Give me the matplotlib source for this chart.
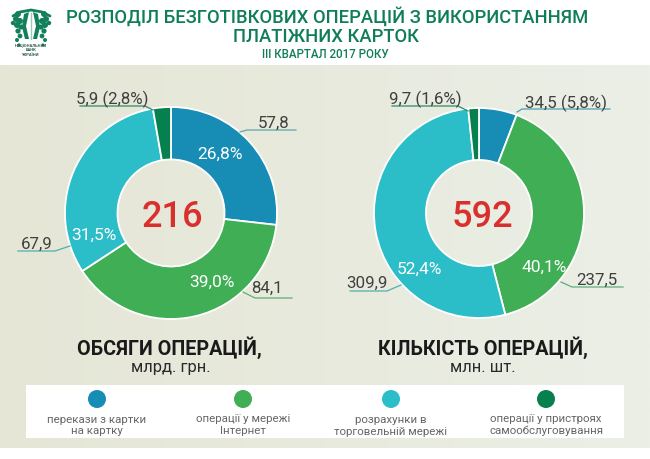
import numpy as np
import matplotlib
matplotlib.use("Agg")
import matplotlib.pyplot as plt
from matplotlib.patches import Rectangle, Ellipse, Polygon, Circle

plt.rcParams["font.family"] = ["Roboto", "DejaVu Sans"]

# data
left_values = [57.8, 84.1, 67.9, 5.9]
right_values = [34.5, 237.5, 309.9, 9.7]
left_total = "216"
right_total = "592"
left_pct = ["26,8%", "39,0%", "31,5%"]
right_pct = ["40,1%", "52,4%"]
colors = ["#178db5", "#3fae54", "#2bbdc8", "#07804f"]
legend_labels = ["перекази з картки\nна картку", "операції у мережі\nІнтернет",
                 "розрахунки в\nторговельній мережі", "операції у пристроях\nсамообслуговування"]

W, H = 650, 460
fig = plt.figure(figsize=(6.5, 4.6), dpi=100, facecolor="white")

# pixel overlay for background, text and leader lines
bg = fig.add_axes([0, 0, 1, 1])
grad = np.linspace(0, 1, 256).reshape(1, -1)
cmap = matplotlib.colors.LinearSegmentedColormap.from_list("bg", ["#e5e6d6", "#e8eadd", "#ebefe6"])
bg.imshow(grad, extent=(0, W, 449, 66), cmap=cmap, aspect="auto", zorder=0)
bg.set_xlim(0, W)
bg.set_ylim(H, 0)
bg.axis("off")
bg.add_patch(Rectangle((26, 386), 598, 53, fc="white", ec="none", zorder=1))


def donut(cx, cy, r, values):
    ax = fig.add_axes([(cx - r - 2) / W, 1 - (cy + r + 2) / H, (2 * r + 4) / W, (2 * r + 4) / H])
    ax.pie(values, colors=colors, startangle=90, counterclock=False, radius=r,
           wedgeprops=dict(width=r * 0.495, edgecolor="white", linewidth=1.3))
    ax.set_xlim(-r - 2, r + 2)
    ax.set_ylim(-r - 2, r + 2)
    ax.set_aspect("equal")
    ax.patch.set_alpha(0)
    return ax


donut(171, 214, 106, left_values)
donut(479, 214, 105, right_values)

top = fig.add_axes([0, 0, 1, 1])
top.set_xlim(0, W)
top.set_ylim(H, 0)
top.axis("off")
top.patch.set_alpha(0)

# title
green = "#0f7d5a"
top.text(327, 17, "РОЗПОДІЛ БЕЗГОТІВКОВИХ ОПЕРАЦІЙ З ВИКОРИСТАННЯМ", color=green,
         fontsize=13.2, ha="center", va="center", fontweight="medium")
top.text(326, 36.5, "ПЛАТІЖНИХ КАРТОК", color=green, fontsize=13.2, ha="center", va="center",
         fontweight="medium")
top.text(325, 54, "III КВАРТАЛ 2017 РОКУ", color=green, fontsize=8.3, ha="center", va="center",
         fontweight="medium")

# logo, rough shapes
logo = "#12805a"
top.plot([13, 20, 31, 42, 50], [17, 13, 11, 13, 17], color=logo, lw=2, solid_capstyle="round")
for a in (-1, 1):
    for dx, dy, r in [(13, 7, 3), (15, 12, 3), (11, 14, 3), (14, 18, 3), (10, 20, 2.6), (13, 24, 2.6),
                      (11, 29, 2.4), (14, 33, 2), (12, 38, 1.6), (18, 16, 2.2)]:
        top.add_patch(Circle((31 + a * dx, 8 + dy), r, fc=logo, ec="none"))
top.add_patch(Polygon([(24, 15), (29, 13), (26, 27), (29, 40), (25, 40), (22, 28)], fc=logo, ec="none"))
top.add_patch(Polygon([(38, 15), (33, 13), (36, 27), (33, 40), (37, 40), (40, 28)], fc=logo, ec="none"))
top.plot([31, 31], [14, 40], color="#9cc9b5", lw=1)
top.text(31, 50, "НАЦІОНАЛЬНИЙ\nБАНК\nУКРАЇНИ", color="#2a5a48", fontsize=3, ha="center", va="center",
         fontweight="bold", linespacing=1.25)

# centre numbers
top.text(172, 214, left_total, color="#d9302e", fontsize=26, ha="center", va="center_baseline", fontweight="medium")
top.text(482.5, 214, right_total, color="#d9302e", fontsize=26, ha="center", va="center_baseline", fontweight="medium")

# percent labels on the rings
for (x, y), s in zip([(220.5, 153), (212, 281), (94, 234)], left_pct):
    top.text(x, y, s, color="white", fontsize=12.5, ha="center", va="center_baseline")
for (x, y), s in zip([(544, 266), (419, 268)], right_pct):
    top.text(x, y, s, color="white", fontsize=12.5, ha="center", va="center_baseline")

# outer labels with leader lines
dark = "#404040"
labels = [
    ("57,8", 274, 122, [(240, 133), (247, 131), (296, 131)], "#5fa8a8"),
    ("84,1", 267, 287, [(243, 293), (255, 299), (292, 299)], "#5fae78"),
    ("67,9", 37, 243, [(70, 247), (55, 252), (18, 252)], "#4fb0b0"),
    ("5,9 (2,8%)", 112, 97, [(153, 111), (145, 107), (80, 107)], "#2f8a68"),
    ("34,5 (5,8%)", 566, 101, [(517, 113), (522, 110), (610, 110)], "#4f9fb5"),
    ("237,5", 596.5, 279, [(561, 283), (572, 288), (623, 288)], "#5fae78"),
    ("309,9", 367, 282, [(401, 286), (387, 292), (350, 292)], "#4fb0b0"),
    ("9,7 (1,6%)", 425, 97, [(468, 112), (458, 107), (392, 107)], "#2f8a68"),
]
for s, x, y, pts, c in labels:
    top.text(x, y, s, color=dark, fontsize=12.2, ha="center", va="center_baseline")
    top.plot(*zip(*pts), color=c, lw=0.9, solid_joinstyle="round")

# subtitles
top.text(169, 346, "ОБСЯГИ ОПЕРАЦІЙ,", color="#1a1a1a", fontsize=14.2, ha="center", va="center_baseline", fontweight="bold")
top.text(170.5, 366, "млрд. грн.", color="#2a2a2a", fontsize=12, ha="center", va="center_baseline")
top.text(483, 346, "КІЛЬКІСТЬ ОПЕРАЦІЙ,", color="#1a1a1a", fontsize=14.2, ha="center", va="center_baseline", fontweight="bold")
top.text(483, 366, "млн. шт.", color="#2a2a2a", fontsize=12, ha="center", va="center_baseline")

# legend
for x, ty, c, s in zip([97, 243, 391, 546], [425.5, 425, 426, 425], colors, legend_labels):
    top.add_patch(Ellipse((x, 400), 18, 18, fc=c, ec="none"))
    top.text(x, ty, s, color="#666666", fontsize=8.25, ha="center", va="center", linespacing=1.2)

fig.savefig("out.png", dpi=100)
